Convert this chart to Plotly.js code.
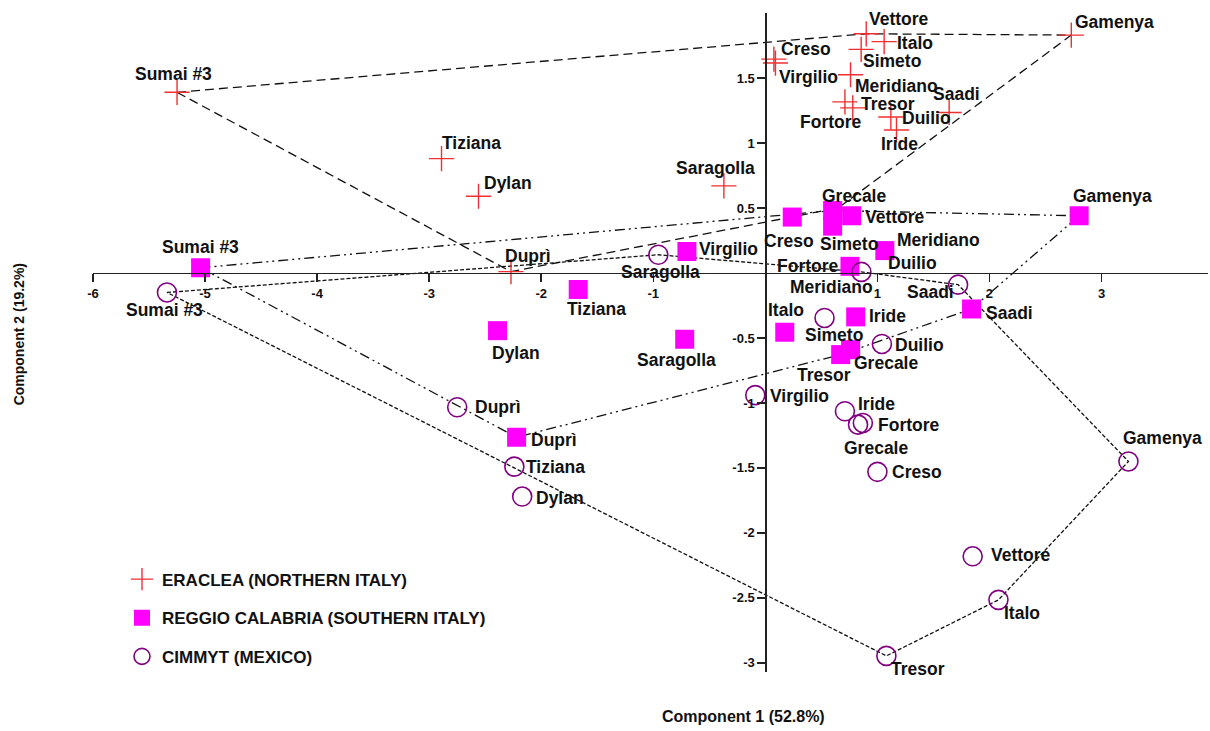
<!DOCTYPE html>
<html>
<head>
<meta charset="utf-8">
<script src="https://cdn.plot.ly/plotly-3.0.1.min.js"></script>
<style>html,body{margin:0;padding:0;background:#fff}#chart{width:1210px;height:731px}</style>
</head>
<body>
<div id="chart"></div>
<script>
// Genotypes (common order for all three environments)
const genotypes = ["Sumai #3","Tiziana","Dylan","Duprì","Saragolla","Creso","Virgilio","Vettore","Italo","Simeto","Meridiano","Tresor","Fortore","Duilio","Iride","Saadi","Gamenya","Grecale"];

// ERACLEA (Northern Italy)
const eracleaPC1 = [-5.25,-2.89,-2.56,-2.27,-0.37,0.076,0.09,0.90,1.06,0.855,0.76,0.71,0.78,1.12,1.17,1.64,2.73,0.65];
const eracleaPC2 = [1.39,0.88,0.59,0.01,0.67,1.645,1.615,1.84,1.78,1.72,1.525,1.316,1.27,1.20,1.10,1.235,1.83,0.50];
const eracleaHull = ["Sumai #3","Vettore","Gamenya","Grecale","Duprì","Sumai #3"];

// REGGIO CALABRIA (Southern Italy)
const reggioPC1 = [-5.04,-1.67,-2.39,-2.22,-0.72,0.24,-0.70,0.77,0.173,0.60,1.066,0.672,0.755,0.60,0.806,1.84,2.80,0.761];
const reggioPC2 = [0.04,-0.127,-0.444,-1.264,-0.51,0.43,0.165,0.44,-0.456,0.36,0.172,-0.628,0.051,0.48,-0.338,-0.277,0.44,-0.59];
const reggioHull = ["Sumai #3","Duilio","Gamenya","Saadi","Tresor","Duprì","Sumai #3"];

// CIMMYT (Mexico)
const cimmytPC1 = [-5.34,-2.24,-2.17,-2.75,-0.955,1.00,-0.09,1.85,2.08,0.528,0.857,1.08,0.87,1.04,0.71,1.72,3.24,0.827];
const cimmytPC2 = [-0.15,-1.49,-1.72,-1.033,0.14,-1.53,-0.94,-2.18,-2.515,-0.346,0.008,-2.946,-1.154,-0.546,-1.064,-0.09,-1.45,-1.167];
const cimmytHull = ["Sumai #3","Saragolla","Meridiano","Saadi","Gamenya","Italo","Tresor","Sumai #3"];

const seriesNames = ["ERACLEA (NORTHERN ITALY)","REGGIO CALABRIA (SOUTHERN ITALY)","CIMMYT (MEXICO)"];
const xTickVals = [-6,-5,-4,-3,-2,-1,1,2,3];
const xTickText = ["-6","-5","-4","-3","-2","-1","1","2","3"];
const yTickVals = [-3,-2.5,-2,-1.5,-1,-0.5,0.5,1,1.5];
const yTickText = ["-3","-2.5","-2","-1.5","-1","-0.5","0.5","1","1.5"];
const xTitle = "Component 1 (52.8%)";
const yTitle = "Component 2 (19.2%)";

// ---- presentation: label offsets [dx, dy] in pixels from the marker (text left edge, text middle) ----
const offE = [[-43,-18],[-1,-16],[5,-13],[-7,-16],[-49,-18],[6,-10],[3,14],[2,-15],[12,1],[1,12],[3,11],[15,2],[-54,14],[10,1],[-16,14],[-17,-18],[3,-13],[-17,-12]];
const offR = [[-40,-21],[-12,20],[-7,22],[13,3],[-49,21],[-29,24],[11,-3],[12,1],[-18,-22],[-14,18],[11,-11],[-45,20],[-74,0],[54,52],[12,-1],[13,4],[-7,-20],[2,13]];
const offC = [[-42,18],[11,0],[13,1],[17,0],[-38,17],[14,0],[14,1],[17,-1],[5,13],[-21,17],[-72,15],[4,13],[14,2],[12,1],[12,-7],[-52,7],[-6,-23],[-15,23]];

const FONT = "Liberation Sans, Arial, sans-serif";
const LABEL_FONT = {family: "Liberation Sans Narrow, Arial Narrow, Liberation Sans, sans-serif", size: 17.5, color: "#111", weight: "bold"};

function hull(names, xs, ys){
  const idx = names.map(n => genotypes.indexOf(n));
  return {x: idx.map(i => xs[i]), y: idx.map(i => ys[i])};
}
const hE = hull(eracleaHull, eracleaPC1, eracleaPC2);
const hR = hull(reggioHull, reggioPC1, reggioPC2);
const hC = hull(cimmytHull, cimmytPC1, cimmytPC2);

const lineStyle = (dash) => ({color: "#111", width: 1.3, dash: dash});

const traces = [
  {x: hE.x, y: hE.y, mode: "lines", line: lineStyle("9px,5px"), showlegend: false, hoverinfo: "skip"},
  {x: hR.x, y: hR.y, mode: "lines", line: lineStyle("10px,4px,2px,4px,2px,4px"), showlegend: false, hoverinfo: "skip"},
  {x: hC.x, y: hC.y, mode: "lines", line: lineStyle("4px,2px"), showlegend: false, hoverinfo: "skip"},
  {x: eracleaPC1, y: eracleaPC2, text: genotypes, name: seriesNames[0], legendgroup: "e", mode: "markers",
   marker: {symbol: "cross-thin-open", size: 18, color: "#f03030", line: {width: 1.4, color: "#f03030"}}},
  {x: reggioPC1, y: reggioPC2, text: genotypes, name: seriesNames[1], legendgroup: "r", mode: "markers",
   marker: {symbol: "square", size: 19, color: "#ff00ff", line: {width: 0}}},
  {x: cimmytPC1, y: cimmytPC2, text: genotypes, name: seriesNames[2], legendgroup: "c", mode: "markers",
   marker: {symbol: "circle-open", size: 19, color: "#800080", line: {width: 1.6, color: "#800080"}}}
];

function labels(xs, ys, offs){
  return genotypes.map((g, i) => ({
    text: g, x: xs[i], y: ys[i], xref: "x", yref: "y", showarrow: false,
    xanchor: "left", yanchor: "middle", xshift: offs[i][0], yshift: -offs[i][1],
    font: LABEL_FONT, borderpad: 0
  }));
}

const xr = [-6, 3.95], yr = [-3.07, 2.0];
const layout = {
  width: 1210, height: 731,
  margin: {l: 93, r: 2, t: 13, b: 59},
  paper_bgcolor: "#fff", plot_bgcolor: "#fff",
  showlegend: true,
  legend: {x: 0.026, y: 0.1675, xanchor: "left", yanchor: "top", traceorder: "grouped", tracegroupgap: 13.5,
           font: {family: FONT, size: 17, color: "#111", weight: "bold"}, bgcolor: "rgba(0,0,0,0)"},
  xaxis: {range: xr, anchor: "free", position: (0 - yr[0]) / (yr[1] - yr[0]),
          showgrid: false, zeroline: false, showline: true, linecolor: "#222", linewidth: 1.5,
          ticks: "outside", ticklen: 8, tickwidth: 1.5, tickcolor: "#222",
          tickmode: "array", tickvals: xTickVals, ticktext: xTickText,
          tickfont: {family: FONT, size: 13, color: "#111", weight: "bold"}},
  yaxis: {range: yr, anchor: "free", position: (0 - xr[0]) / (xr[1] - xr[0]),
          showgrid: false, zeroline: false, showline: true, linecolor: "#222", linewidth: 1.5,
          ticks: "outside", ticklen: 8, tickwidth: 1.5, tickcolor: "#222",
          tickmode: "array", tickvals: yTickVals, ticktext: yTickText,
          tickfont: {family: FONT, size: 13, color: "#111", weight: "bold"}},
  annotations: [
    {text: xTitle, xref: "paper", yref: "paper", x: 0.583, y: -0.068, xanchor: "center", yanchor: "middle", showarrow: false,
     font: {family: FONT, size: 16, color: "#111", weight: "bold"}},
    {text: yTitle, xref: "paper", yref: "paper", x: -0.066, y: 0.513, xanchor: "center", yanchor: "middle", showarrow: false, textangle: -90,
     font: {family: FONT, size: 14, color: "#111", weight: "bold"}}
  ].concat(labels(eracleaPC1, eracleaPC2, offE), labels(reggioPC1, reggioPC2, offR), labels(cimmytPC1, cimmytPC2, offC))
};
Plotly.newPlot("chart", traces, layout, {displayModeBar: false, staticPlot: true});
</script>
</body>
</html>
